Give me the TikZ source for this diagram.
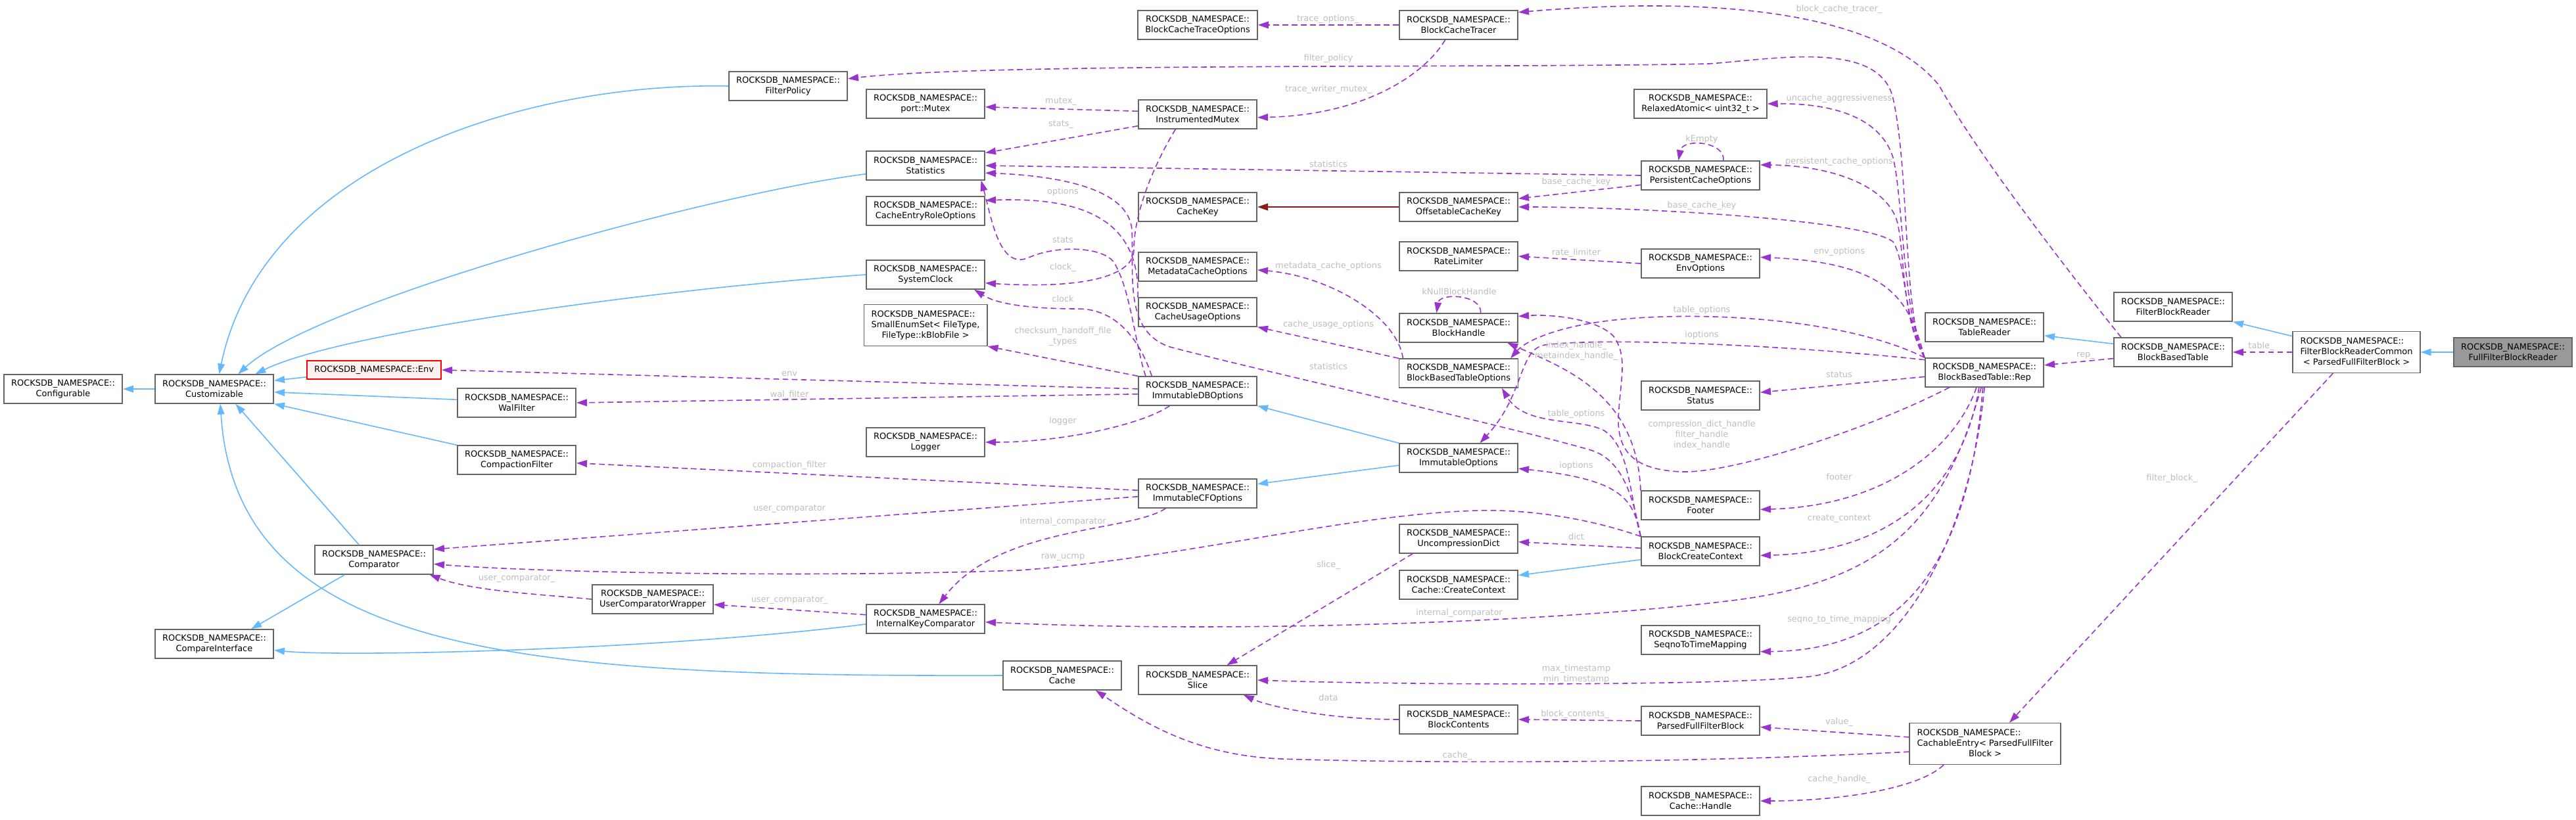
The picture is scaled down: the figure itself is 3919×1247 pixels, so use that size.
\documentclass[tikz,border=0pt]{standalone}
\usepackage{fontspec}
\setmainfont{DejaVu Sans}
\usepackage{xcolor}
\usepackage{tikz}
\usetikzlibrary{arrows.meta}

\definecolor{usepurple}{HTML}{9A32CD}
\definecolor{inhblue}{HTML}{63B8FF}
\definecolor{prvred}{HTML}{8B1A1A}
\definecolor{lblgray}{HTML}{BEBEBE}
\definecolor{boxgray}{HTML}{666666}
\definecolor{selgray}{HTML}{999999}
\definecolor{envfill}{HTML}{FFF0F0}

\newcommand{\rdbns}{ROCKSDB\_NAMESPACE::}
\newcommand{\threeline}[3]{\begin{tabular}{@{}l@{}}#1\\#2\\\multicolumn{1}{@{}c@{}}{#3}\end{tabular}}

\begin{document}
\begin{tikzpicture}[x=0.75pt, y=-0.75pt, >={Triangle[length=12pt,width=8pt]},
    cls/.style={draw=boxgray, line width=1.2pt, fill=white, align=center, inner xsep=8.5pt, inner ysep=5.5pt, minimum height=32.8pt, font=\fontsize{9.7}{12}\selectfont},
    envbox/.style={draw=red, fill=envfill, minimum height=21pt},
    selbox/.style={fill=selgray},
    inhedge/.style={->, draw=inhblue, line width=1.2pt},
    prvedge/.style={->, draw=prvred, line width=1.2pt},
    useedge/.style={->, draw=usepurple, line width=1.2pt, dash pattern=on 6.5pt off 4pt},
    lbl/.style={text=lblgray, align=center, inner sep=0pt, font=\fontsize{9.7}{12}\selectfont}]

            \path[use as bounding box, fill=white] (0,0) rectangle (3919,1247);

            \node[cls] (cfg) at (96,592) {\rdbns\\Configurable};
            \node[cls] (cust) at (326,592) {\rdbns\\Customizable};
            \node[cls, envbox] (env) at (569,563) {\rdbns Env};
            \node[cls] (wal) at (786,613) {\rdbns\\WalFilter};
            \node[cls] (cfilt) at (786,700) {\rdbns\\CompactionFilter};
            \node[cls] (cmp) at (569,852) {\rdbns\\Comparator};
            \node[cls] (ucw) at (993,912) {\rdbns\\UserComparatorWrapper};
            \node[cls] (cmpif) at (326,980) {\rdbns\\CompareInterface};
            \node[cls] (fpol) at (1199,131) {\rdbns\\FilterPolicy};

            \node[cls] (mutex) at (1408,158) {\rdbns\\port::Mutex};
            \node[cls] (stats) at (1408,252) {\rdbns\\Statistics};
            \node[cls] (cero) at (1408,321) {\rdbns\\CacheEntryRoleOptions};
            \node[cls] (clock) at (1408,418) {\rdbns\\SystemClock};
            \node[cls] (enumset) at (1408,495) {\threeline{\rdbns}{SmallEnumSet< FileType,}{FileType::kBlobFile >}};
            \node[cls] (logger) at (1408,673) {\rdbns\\Logger};
            \node[cls] (ikc) at (1408,942) {\rdbns\\InternalKeyComparator};
            \node[cls] (cache) at (1616,1028) {\rdbns\\Cache};

            \node[cls] (bcto) at (1822,38) {\rdbns\\BlockCacheTraceOptions};
            \node[cls] (imutex) at (1822,174) {\rdbns\\InstrumentedMutex};
            \node[cls] (ckey) at (1822,315) {\rdbns\\CacheKey};
            \node[cls] (mco) at (1822,406) {\rdbns\\MetadataCacheOptions};
            \node[cls] (cuo) at (1822,475) {\rdbns\\CacheUsageOptions};
            \node[cls] (idbo) at (1822,595) {\rdbns\\ImmutableDBOptions};
            \node[cls] (icfo) at (1822,751) {\rdbns\\ImmutableCFOptions};
            \node[cls] (slice) at (1822,1035) {\rdbns\\Slice};

            \node[cls] (bct) at (2219,38) {\rdbns\\BlockCacheTracer};
            \node[cls] (ockey) at (2219,315) {\rdbns\\OffsetableCacheKey};
            \node[cls] (rlim) at (2219,390) {\rdbns\\RateLimiter};
            \node[cls] (bh) at (2219,499) {\rdbns\\BlockHandle};
            \node[cls] (bbto) at (2219,568) {\rdbns\\BlockBasedTableOptions};
            \node[cls] (iopt) at (2219,697) {\rdbns\\ImmutableOptions};
            \node[cls] (udict) at (2219,820) {\rdbns\\UncompressionDict};
            \node[cls] (ccc) at (2219,890) {\rdbns\\Cache::CreateContext};
            \node[cls] (bcont) at (2219,1095) {\rdbns\\BlockContents};

            \node[cls] (ratomic) at (2587,158) {\rdbns\\RelaxedAtomic< uint32\_t >};
            \node[cls] (pco) at (2587,267) {\rdbns\\PersistentCacheOptions};
            \node[cls] (envo) at (2587,401) {\rdbns\\EnvOptions};
            \node[cls] (status) at (2587,602) {\rdbns\\Status};
            \node[cls] (footer) at (2587,769) {\rdbns\\Footer};
            \node[cls] (bcc) at (2587,839) {\rdbns\\BlockCreateContext};
            \node[cls] (sttm) at (2587,974) {\rdbns\\SeqnoToTimeMapping};
            \node[cls] (pffb) at (2587,1097) {\rdbns\\ParsedFullFilterBlock};
            \node[cls] (handle) at (2587,1219) {\rdbns\\Cache::Handle};

            \node[cls] (treader) at (3019,498) {\rdbns\\TableReader};
            \node[cls] (rep) at (3019,567) {\rdbns\\BlockBasedTable::Rep};
            \node[cls] (centry) at (3020,1132) {\threeline{\rdbns}{CachableEntry< ParsedFullFilter}{Block >}};
            \node[cls] (fbr) at (3306,467) {\rdbns\\FilterBlockReader};
            \node[cls] (bbt) at (3306,536) {\rdbns\\BlockBasedTable};
            \node[cls] (fbrc) at (3585,536) {\threeline{\rdbns}{FilterBlockReaderCommon}{< ParsedFullFilterBlock >}};
            \node[cls, selbox] (ffbr) at (3823,536) {\rdbns\\FullFilterBlockReader};

            \draw[inhedge] (ffbr) -- (fbrc);
            \draw[inhedge] (fbrc.166) -- (fbr.south east);
            \draw[inhedge] (bbt.172) -- (treader.352);
            \draw[inhedge] (cust) -- (cfg);
            \draw[inhedge] (fpol.west) .. controls (800,125) and (400,250) .. (cust.72);
            \draw[inhedge] (stats.188) .. controls (1080,295) and (480,460) .. (cust.32);
            \draw[inhedge] (clock.west) .. controls (1000,440) and (520,505) .. (cust.20);
            \draw[inhedge] (env.186) -- (cust.8);
            \draw[inhedge] (wal.177) -- (cust.357);
            \draw[inhedge] (cfilt.north west) -- (cust.south east);
            \draw[inhedge] (cmp.135) -- (cust.325);
            \draw[inhedge] (cache.west) .. controls (800,1030) and (360,1000) .. (cust.292);
            \draw[inhedge] (cmp.207) -- (cmpif.22);
            \draw[inhedge] (ikc.185) .. controls (1000,990) and (520,1000) .. (cmpif.354);
            \draw[inhedge] (iopt.north west) -- (idbo.south east);
            \draw[inhedge] (iopt.187) -- (icfo.9);
            \draw[inhedge] (bcc.188) -- (ccc.9);
            \draw[prvedge] (ockey) -- (ckey);

            \draw[useedge] (fbrc) -- (bbt);
            \draw[useedge] (bbt.186) -- (rep.7);
            \draw[useedge] (bbt.164) .. controls (3120,380) and (3000,220) .. (2950,130) .. controls (2870,30) and (2650,-10) .. (bct.12);
            \draw[useedge] (fbrc.222) -- (centry.41);
            \draw[useedge] (centry.175) -- (pffb.354);
            \draw[useedge] (centry.186) .. controls (2500,1165) and (2100,1160) .. (1950,1155) .. controls (1820,1150) and (1740,1100) .. (cache.336);
            \draw[useedge] (centry.207) .. controls (2920,1200) and (2800,1219) .. (handle.east);
            \draw[useedge] (pffb.west) -- (bcont.east);
            \draw[useedge] (bcont.west) .. controls (2020,1095) and (1930,1075) .. (slice.342);
            \draw[useedge] (udict.198) -- (slice.27);

            \draw[useedge] (rep.270) .. controls (3000,800) and (2900,1015) .. (2750,1030) .. controls (2600,1045) and (2100,1042) .. (slice.east);
            \draw[useedge] (rep.264) .. controls (2995,850) and (2900,990) .. (sttm.349);
            \draw[useedge] (rep.258) .. controls (2960,780) and (2880,880) .. (2650,912) .. controls (2400,945) and (1900,965) .. (ikc.357);
            \draw[useedge] (rep.250) .. controls (2990,720) and (2900,840) .. (bcc.356);
            \draw[useedge] (rep.242) .. controls (2975,680) and (2870,770) .. (footer.356);
            \draw[useedge] (rep.184) -- (status.3);
            \draw[useedge] (rep.203) .. controls (2850,650) and (2640,720) .. (2560,718) .. controls (2490,716) and (2462,690) .. (2462,640) .. controls (2464,580) and (2478,545) .. (2455,512) .. controls (2430,485) and (2360,478) .. (bh.11);
            \draw[useedge] (rep.168) .. controls (2750,528) and (2450,512) .. (2350,525) .. controls (2310,532) and (2320,600) .. (iopt.35);
            \draw[useedge] (rep.north west) .. controls (2800,480) and (2550,470) .. (2420,492) .. controls (2360,502) and (2320,520) .. (bbto.16);
            \draw[useedge] (rep.north west) .. controls (2905,460) and (2880,400) .. (envo.6);
            \draw[useedge] (rep.north west) .. controls (2895,480) and (2900,400) .. (2880,368) .. controls (2840,335) and (2500,315) .. (ockey.east);
            \draw[useedge] (rep.north west) .. controls (2895,490) and (2898,400) .. (2888,345) .. controls (2878,285) and (2790,252) .. (pco.10);
            \draw[useedge] (rep.north west) .. controls (2895,480) and (2895,300) .. (2880,240) .. controls (2860,175) and (2780,157) .. (ratomic.east);
            \draw[useedge] (rep.north west) .. controls (2895,480) and (2905,260) .. (2880,150) .. controls (2860,60) and (2700,90) .. (2600,97) .. controls (2300,104) and (1500,95) .. (fpol.7);

            \draw[useedge] (bh.34) .. controls (2255,448) and (2190,445) .. (bh.146);
            \draw[useedge] (footer.north west) .. controls (2490,600) and (2380,560) .. (bh.343);
            \draw[useedge] (pco.33) .. controls (2625,215) and (2560,210) .. (pco.146);
            \draw[useedge] (pco.west) -- (stats.east);
            \draw[useedge] (pco.189) -- (ockey.8);
            \draw[useedge] (envo.west) -- (rlim.east);
            \draw[useedge] (bct.west) -- (bcto.east);
            \draw[useedge] (bct.228) .. controls (2170,110) and (2080,175) .. (imutex.357);
            \draw[useedge] (imutex.177) -- (mutex.357);
            \draw[useedge] (imutex.191) -- (stats.12);
            \draw[useedge] (imutex.214) .. controls (1750,260) and (1725,330) .. (1725,380) .. controls (1725,420) and (1650,440) .. (clock.352);
            \draw[useedge] (bbto.165) .. controls (2125,480) and (2020,420) .. (mco.357);
            \draw[useedge] (bbto.north west) -- (cuo.south east);
            \draw[useedge] (cuo.north west) .. controls (1735,330) and (1640,300) .. (cero.10);

            \draw[useedge] (idbo.164) .. controls (1728,530) and (1720,440) .. (1695,400) .. controls (1680,376) and (1610,372) .. (1565,392) .. controls (1520,412) and (1508,330) .. (stats.345);
            \draw[useedge] (idbo.162) .. controls (1735,520) and (1700,470) .. (1640,470) .. controls (1580,470) and (1520,465) .. (clock.343);
            \draw[useedge] (idbo.north west) -- (enumset.south east);
            \draw[useedge] (idbo.178) -- (env.east);
            \draw[useedge] (idbo.183) -- (wal.east);
            \draw[useedge] (idbo.208) .. controls (1740,645) and (1620,673) .. (logger.east);
            \draw[useedge] (icfo.177) -- (cfilt.357);
            \draw[useedge] (icfo.183) -- (cmp.10);
            \draw[useedge] (icfo.205) .. controls (1720,810) and (1520,800) .. (ikc.48);

            \draw[useedge] (bcc.north west) .. controls (2420,790) and (2330,775) .. (2250,777) .. controls (2050,782) and (1800,850) .. (1550,868) .. controls (1200,880) and (800,870) .. (cmp.356);
            \draw[useedge] (bcc.north west) .. controls (2485,760) and (2470,700) .. (2420,685) .. controls (2300,650) and (1900,560) .. (1780,528) .. controls (1710,505) and (1725,420) .. (1722,350) .. controls (1718,290) and (1620,268) .. (stats.353);
            \draw[useedge] (bcc.north west) .. controls (2480,760) and (2480,680) .. (2440,655) .. controls (2400,635) and (2320,650) .. (bbto.341);
            \draw[useedge] (bcc.north west) .. controls (2485,760) and (2470,730) .. (iopt.350);
            \draw[useedge] (bcc.177) -- (udict.357);
            \draw[useedge] (ucw.west) .. controls (830,905) and (720,900) .. (cmp.345);
            \draw[useedge] (ikc.176) -- (ucw.355);

            \node[lbl] (ltable) at (3440,527) {table\_};
            \node[lbl] (lrep) at (3173,541) {rep\_};
            \node[lbl] (lbct) at (2798,14) {block\_cache\_tracer\_};
            \node[lbl] (lfblock) at (3304,728) {filter\_block\_};
            \node[lbl] (lvalue) at (2798,1099) {value\_};
            \node[lbl] (lcache) at (2217,1150) {cache\_};
            \node[lbl] (lchandle) at (2798,1186) {cache\_handle\_};
            \node[lbl] (lbcont) at (2396,1087) {block\_contents\_};
            \node[lbl] (ldata) at (2021,1062) {data};
            \node[lbl] (lslice) at (2021,860) {slice\_};
            \node[lbl] (lts) at (2398,1026) {max\_timestamp\\min\_timestamp};
            \node[lbl] (lseqno) at (2798,943) {seqno\_to\_time\_mapping};
            \node[lbl] (lrepikc) at (2220,933) {internal\_comparator};
            \node[lbl] (lcctx) at (2798,789) {create\_context};
            \node[lbl] (lfooter) at (2798,726) {footer};
            \node[lbl] (lstatus) at (2798,570) {status};
            \node[lbl] (lhandles) at (2589,662) {compression\_dict\_handle\\filter\_handle\\index\_handle};
            \node[lbl] (lrepio) at (2589,510) {ioptions};
            \node[lbl] (lreptopt) at (2589,472) {table\_options};
            \node[lbl] (lenvo) at (2798,383) {env\_options};
            \node[lbl] (lbkey) at (2589,313) {base\_cache\_key};
            \node[lbl] (lpco) at (2798,246) {persistent\_cache\_options};
            \node[lbl] (luncache) at (2798,150) {uncache\_aggressiveness};
            \node[lbl] (lfpol) at (2021,89) {filter\_policy};
            \node[lbl] (lpcokey) at (2398,277) {base\_cache\_key};
            \node[lbl] (lpcostat) at (2021,250) {statistics};
            \node[lbl] (lkempty) at (2589,212) {kEmpty};
            \node[lbl] (lknull) at (2220,444) {kNullBlockHandle};
            \node[lbl] (lrlim) at (2398,385) {rate\_limiter};
            \node[lbl] (ltopt) at (2020,29) {trace\_options\_};
            \node[lbl] (ltwm) at (2021,136) {trace\_writer\_mutex\_};
            \node[lbl] (lmutex) at (1614,154) {mutex\_};
            \node[lbl] (lstats) at (1614,189) {stats\_};
            \node[lbl] (loptions) at (1617,292) {options};
            \node[lbl] (lidbostats) at (1617,365) {stats};
            \node[lbl] (lclockm) at (1617,407) {clock\_};
            \node[lbl] (lclock) at (1617,455) {clock};
            \node[lbl] (lchk) at (1617,512) {checksum\_handoff\_file\\\_types};
            \node[lbl] (lmco) at (2021,405) {metadata\_cache\_options};
            \node[lbl] (lcuo) at (2021,494) {cache\_usage\_options};
            \node[lbl] (lbccstat) at (2021,558) {statistics};
            \node[lbl] (llogger) at (1617,641) {logger};
            \node[lbl] (lenv) at (1201,569) {env};
            \node[lbl] (lwal) at (1201,601) {wal\_filter};
            \node[lbl] (lcfilt) at (1201,708) {compaction\_filter};
            \node[lbl] (lucmp) at (1201,774) {user\_comparator};
            \node[lbl] (licfoikc) at (1617,794) {internal\_comparator};
            \node[lbl] (lrawucmp) at (1617,848) {raw\_ucmp};
            \node[lbl] (lucw) at (786,880) {user\_comparator\_};
            \node[lbl] (likcucw) at (1201,913) {user\_comparator\_};
            \node[lbl] (ldict) at (2398,817) {dict};
            \node[lbl] (lbcctopt) at (2398,630) {table\_options};
            \node[lbl] (lbccio) at (2398,709) {ioptions};
            \node[lbl] (lfooterbh) at (2398,534) {index\_handle\_\\metaindex\_handle\_};
        \end{tikzpicture}
\end{document}
